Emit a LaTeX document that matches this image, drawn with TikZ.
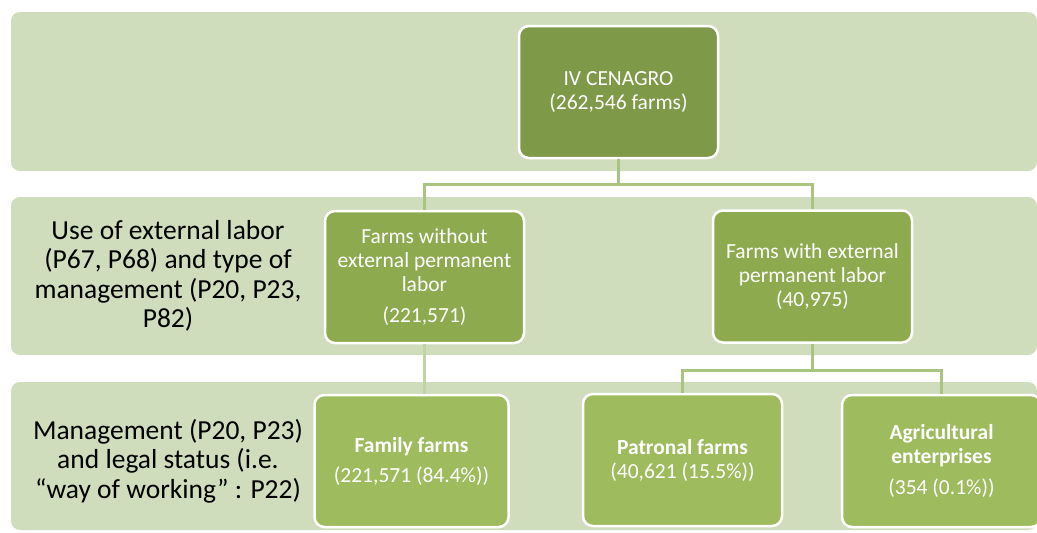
\documentclass[tikz,border=0pt]{standalone}
\usepackage{fontspec}
\setmainfont{Carlito}
\definecolor{bandc}{HTML}{D0DDBD}
\definecolor{lvla}{HTML}{7E9A48}
\definecolor{lvlb}{HTML}{8DAA4F}
\definecolor{lvlc}{HTML}{9EBB5E}
\definecolor{connc}{HTML}{A9C47F}
\definecolor{connl}{HTML}{C2D4A4}
\tikzset{
  band/.style={fill=bandc, draw=none, rounded corners=9pt},
  box/.style={draw=white, line width=2.5pt, rounded corners=10pt, text=white,
    align=center, font=\fontsize{21.5}{24}\selectfont, inner sep=0pt,
    minimum height=132pt},
  lbl/.style={align=center, text=black, font=\fontsize{27.5}{29.5}\selectfont},
  conn/.style={draw=connc, line width=3pt},
}
\begin{document}
\begin{tikzpicture}[x=1pt,y=-1pt]
\useasboundingbox (0,0) rectangle (1037,533);
\fill[white] (0,0) rectangle (1037,533);
% bands
\path[band] (11,12) rectangle (1037,171);
\path[band] (11,197) rectangle (1037,355);
\path[band] (11,382) rectangle (1037,530);
% labels
\node[lbl] (lab2) at (168,276) {Use of external labor\\(P67, P68) and type of\\management (P20, P23,\\P82)};
\node[lbl] (lab3) at (168,461) {Management (P20, P23)\\and legal status (i.e.\\“way of working” : P22)};
% boxes
\node[box, fill=lvla, minimum width=199pt] (top) at (618.5,92) {IV CENAGRO\\(262,546 farms)};
\node[box, fill=lvlb, minimum width=199pt] (without) at (424.5,277) {Farms without\\external permanent\\labor\\[7pt](221,571)};
\node[box, fill=lvlb, minimum width=199pt] (with) at (812.5,276.5) {Farms with external\\permanent labor\\(40,975)};
\node[box, fill=lvlc, minimum width=194pt] (family) at (411.5,461) {\textbf{Family farms}\\[6pt](221,571 (84.4\%))};
\node[box, fill=lvlc, minimum width=199pt] (patronal) at (682.5,460) {\textbf{Patronal farms}\\(40,621 (15.5\%))};
\node[box, fill=lvlc, minimum width=199pt] (agri) at (941.5,461) {\textbf{Agricultural}\\\textbf{enterprises}\\[7pt](354 (0.1\%))};
% connectors
\coordinate (j1) at (618.5,184);
\coordinate (j2) at (812.5,370);
\draw[conn] (top.south) -- (j1);
\draw[conn] (j1) -| (without.north);
\draw[conn] (j1) -| (with.north);
\draw[conn, draw=connl] (without.south) -- (without.south |- family.north);
\draw[conn] (with.south) -- (j2);
\draw[conn] (j2) -| (patronal.north);
\draw[conn] (j2) -| (agri.north);
\end{tikzpicture}
\end{document}
